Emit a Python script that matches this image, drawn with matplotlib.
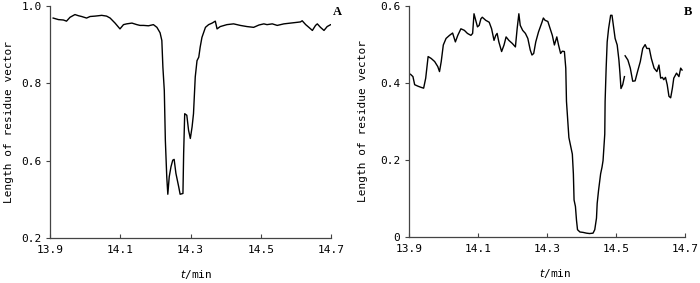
import numpy as np
import matplotlib.pyplot as plt

# Panel A: length of residue vector vs time
t_a = [13.909, 13.924, 13.938, 13.947, 13.957, 13.971, 13.981, 13.990, 14.004, 14.014,
       14.028, 14.038, 14.047, 14.061, 14.071, 14.085, 14.099, 14.109, 14.118, 14.133,
       14.147, 14.156, 14.166, 14.180, 14.194, 14.204, 14.213, 14.218, 14.221, 14.225,
       14.228, 14.232, 14.235, 14.239, 14.244, 14.249, 14.253, 14.258, 14.266, 14.270,
       14.278, 14.280, 14.283, 14.289, 14.294, 14.299, 14.304, 14.308, 14.313, 14.318,
       14.323, 14.327, 14.332, 14.342, 14.351, 14.361, 14.370, 14.375, 14.384, 14.403,
       14.422, 14.441, 14.460, 14.479, 14.494, 14.508, 14.517, 14.532, 14.546, 14.565,
       14.584, 14.603, 14.612, 14.617, 14.627, 14.636, 14.646, 14.655, 14.660, 14.669,
       14.679, 14.688, 14.698, 14.702]
len_a = [0.968, 0.964, 0.963, 0.960, 0.970, 0.977, 0.974, 0.972, 0.968, 0.972,
         0.973, 0.974, 0.975, 0.973, 0.968, 0.955, 0.940, 0.951, 0.953, 0.955,
         0.951, 0.949, 0.949, 0.948, 0.951, 0.944, 0.930, 0.910, 0.841, 0.781,
         0.652, 0.558, 0.513, 0.558, 0.584, 0.601, 0.603, 0.567, 0.532, 0.513,
         0.515, 0.618, 0.721, 0.717, 0.678, 0.657, 0.687, 0.721, 0.816, 0.858,
         0.867, 0.893, 0.918, 0.944, 0.951, 0.955, 0.960, 0.940, 0.946, 0.951,
         0.953, 0.949, 0.946, 0.944, 0.950, 0.953, 0.951, 0.953, 0.949, 0.953,
         0.955, 0.957, 0.958, 0.961, 0.951, 0.944, 0.936, 0.949, 0.953, 0.944,
         0.936, 0.946, 0.951, 0.951]

# Panel B (nan marks the break in the trace)
t_b = [13.905, 13.912, 13.917, 13.927, 13.936, 13.943, 13.949, 13.956, 13.965, 13.975,
       13.984, 13.989, 13.994, 14.000, 14.008, 14.018, 14.027, 14.035, 14.042, 14.051,
       14.061, 14.070, 14.080, 14.085, 14.089, 14.094, 14.099, 14.104, 14.109, 14.113,
       14.123, 14.133, 14.140, 14.147, 14.152, 14.156, 14.161, 14.169, 14.176, 14.182,
       14.190, 14.200, 14.209, 14.214, 14.219, 14.223, 14.230, 14.238, 14.245, 14.252,
       14.257, 14.262, 14.268, 14.276, 14.286, 14.290, 14.295, 14.303, 14.310, 14.316,
       14.322, 14.329, 14.334, 14.340, 14.345, 14.351, 14.355, 14.357, 14.360, 14.364,
       14.370, 14.374, 14.377, 14.379, 14.383, 14.386, 14.389, 14.396, 14.405, 14.415,
       14.424, 14.434, 14.439, 14.444, 14.446, 14.450, 14.456, 14.460, 14.463, 14.468,
       14.469, 14.472, 14.475, 14.479, 14.485, 14.489, 14.493, 14.498, 14.504, 14.509,
       14.512, 14.515, 14.520, 14.525, 14.526, 14.527, 14.535, 14.542, 14.549, 14.556,
       14.563, 14.571, 14.578, 14.585, 14.590, 14.597, 14.603, 14.611, 14.619, 14.625,
       14.630, 14.635, 14.639, 14.644, 14.649, 14.654, 14.659, 14.664, 14.668, 14.676,
       14.683, 14.688, 14.692]
len_b = [0.422, 0.416, 0.395, 0.391, 0.388, 0.386, 0.412, 0.468, 0.463, 0.455,
         0.442, 0.429, 0.455, 0.498, 0.515, 0.523, 0.529, 0.506, 0.523, 0.540,
         0.536, 0.528, 0.523, 0.528, 0.579, 0.562, 0.545, 0.549, 0.566, 0.570,
         0.562, 0.557, 0.540, 0.510, 0.523, 0.528, 0.506, 0.481, 0.498, 0.519,
         0.510, 0.502, 0.493, 0.540, 0.579, 0.549, 0.536, 0.528, 0.515, 0.485,
         0.472, 0.476, 0.506, 0.532, 0.557, 0.568, 0.562, 0.559, 0.540, 0.523,
         0.498, 0.519, 0.498, 0.476, 0.482, 0.481, 0.438, 0.352, 0.310, 0.258,
         0.233, 0.215, 0.164, 0.096, 0.079, 0.044, 0.019, 0.013, 0.012, 0.010,
         0.009, 0.010, 0.019, 0.049, 0.087, 0.121, 0.164, 0.181, 0.198, 0.267,
         0.352, 0.438, 0.506, 0.540, 0.575, 0.575, 0.549, 0.515, 0.498, 0.459,
         0.425, 0.385, 0.395, 0.416, np.nan, 0.470, 0.459, 0.438, 0.404, 0.405,
         0.429, 0.455, 0.489, 0.499, 0.489, 0.489, 0.463, 0.438, 0.429, 0.446,
         0.412, 0.414, 0.408, 0.414, 0.395, 0.365, 0.361, 0.386, 0.412, 0.425,
         0.416, 0.438, 0.433]

x_ticks = [13.9, 14.1, 14.3, 14.5, 14.7]
x_ticklabels = ["13.9", "14.1", "14.3", "14.5", "14.7"]
# the printed y scale of panel A reads 0.2 at its bottom tick
ya_ticks = [0.4, 0.6, 0.8, 1.0]
ya_ticklabels = ["0.2", "0.6", "0.8", "1.0"]
yb_ticks = [0, 0.2, 0.4, 0.6]
yb_ticklabels = ["0", "0.2", "0.4", "0.6"]

MONO = "DejaVu Sans Mono"


def style_axis(ax, yticks, yticklabels, ylim, letter, letter_x, xlabel_x, ylabel_x):
    ax.set_xlim(13.9, 14.7)
    ax.set_ylim(*ylim)
    for side in ["top", "right"]:
        ax.spines[side].set_visible(False)
    for side in ["left", "bottom"]:
        ax.spines[side].set_color("#444444")
        ax.spines[side].set_linewidth(0.9)
    ax.set_xticks(x_ticks)
    ax.set_xticklabels(x_ticklabels, family=MONO, fontsize=8)
    ax.set_yticks(yticks)
    ax.set_yticklabels(yticklabels, family=MONO, fontsize=8)
    ax.tick_params(axis="x", direction="in", length=3, pad=5, color="#444444")
    ax.tick_params(axis="y", direction="out", length=3, pad=3, color="#444444")
    ax.set_ylabel("Length of residue vector", family=MONO, fontsize=8)
    ax.yaxis.set_label_coords(ylabel_x, 0.5)
    ax.set_xlabel("$t$/min", family=MONO, fontsize=8)
    ax.xaxis.set_label_coords(xlabel_x, -0.13)
    ax.text(letter_x, 1.0, letter, transform=ax.transAxes, ha="center", va="top",
            family="Liberation Serif", fontweight="bold", fontsize=9)


fig = plt.figure(figsize=(7, 2.83), dpi=100)
ax_a = fig.add_axes([0.0714, 0.159, 0.402, 0.821])
ax_b = fig.add_axes([0.584, 0.1625, 0.3943, 0.8175])

ax_a.plot(t_a, len_a, color="black", lw=1.0)
ax_b.plot(t_b, len_b, color="black", lw=1.0)

style_axis(ax_a, ya_ticks, ya_ticklabels, (0.4, 1.0), "A", 1.021, 0.52, -0.128)
style_axis(ax_b, yb_ticks, yb_ticklabels, (0, 0.6), "B", 1.01, 0.53, -0.148)

fig.savefig("out.png", dpi=100)
